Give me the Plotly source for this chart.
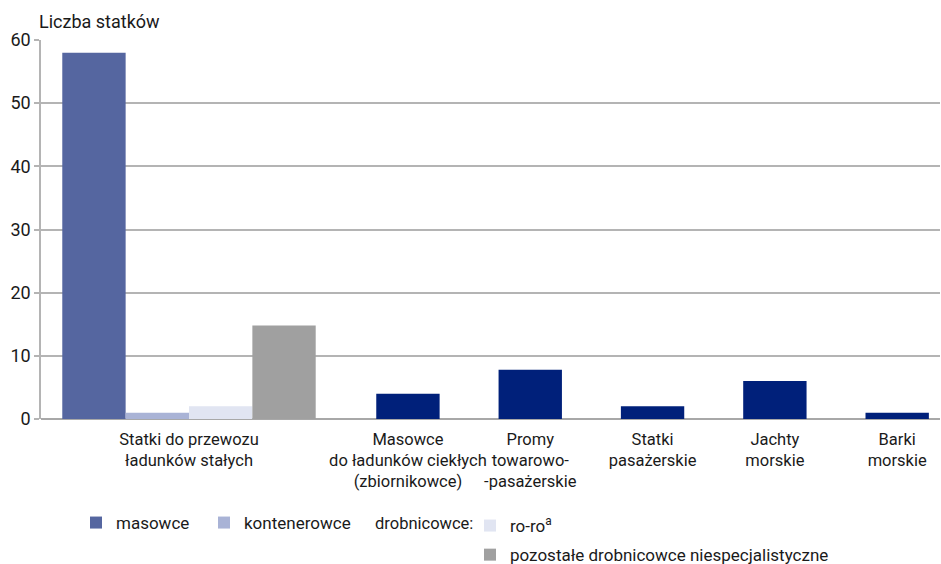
import plotly.graph_objects as go

# data
group_label = "Statki do przewozu<br>ładunków stałych"
group_series = ["masowce", "kontenerowce", "ro-ro<sup>a</sup>", "pozostałe drobnicowce niespecjalistyczne"]
group_values = [58, 1, 2, 14.8]

other_labels = ["Masowce<br>do ładunków ciekłych<br>(zbiornikowce)", "Promy<br>towarowo-<br>-pasażerskie",
                "Statki<br>pasażerskie", "Jachty<br>morskie", "Barki<br>morskie"]
other_values = [4, 7.8, 2, 6, 1]

y_ticks = [0, 10, 20, 30, 40, 50, 60]

# layout / style
FONT = "Liberation Sans Narrow, Roboto, sans-serif"
TXT = "#1a1a1a"
group_colors = ["#5566a0", "#a9b3d6", "#e1e5f2", "#a0a0a0"]
navy = "#00207a"
bar_w = 0.518
group_center = -0.79
other_pos = [1, 2, 3, 4, 5]
legend_ids = ["legend", "legend3", "legend2", "legend2"]

W, H = 941, 564
L, R, T, B = 41, 1, 40, 145
plot_w, plot_h = W - L - R, H - T - B


def px_x(px):  # pixel -> paper x
    return (px - L) / plot_w


def px_y(py):  # pixel -> paper y
    return (H - B - py) / plot_h


fig = go.Figure()

for i, (name, val, col) in enumerate(zip(group_series, group_values, group_colors)):
    fig.add_trace(go.Bar(
        x=[group_center + (i - 1.5) * bar_w], y=[val], width=bar_w,
        name=name, marker=dict(color=col, line=dict(width=0)),
        legend=legend_ids[i],
        legendgroup=f"g{i}",
    ))

fig.add_trace(go.Bar(
    x=other_pos, y=other_values, width=bar_w, showlegend=False,
    marker=dict(color=navy, line=dict(width=0)),
))

leg_common = dict(xref="container", yref="container", bgcolor="rgba(0,0,0,0)",
                  font=dict(size=17, color=TXT))

fig.update_layout(
    width=W, height=H,
    margin=dict(l=L, r=R, t=T, b=B, autoexpand=False),
    plot_bgcolor="white", paper_bgcolor="white",
    barmode="overlay",
    font=dict(family=FONT, size=18, color=TXT),
    xaxis=dict(
        range=[-2.0, 5.35], showgrid=False, zeroline=False,
        tickvals=[group_center] + other_pos,
        ticktext=[group_label] + other_labels,
        ticks="", showline=False, tickangle=0, ticklabelstandoff=8,
        tickfont=dict(size=16.5, color=TXT),
    ),
    yaxis=dict(
        range=[0, 60], tickvals=y_ticks,
        showgrid=True, gridcolor="#b4b4b4", gridwidth=1.5,
        zeroline=True, zerolinecolor="#a8a8a8", zerolinewidth=1.5,
        showline=True, linecolor="#b4b4b4", linewidth=1.5,
        ticks="outside", ticklen=5, tickcolor="#b4b4b4", tickwidth=1.5,
        tickfont=dict(size=18, color=TXT),
    ),
    legend=dict(orientation="h", x=76 / W, y=1 - 523 / H,
                xanchor="left", yanchor="middle", **leg_common),
    legend3=dict(orientation="h", x=204 / W, y=1 - 523 / H,
                 xanchor="left", yanchor="middle", **leg_common),
    legend2=dict(orientation="v", x=470 / W, y=1 - 508 / H,
                 xanchor="left", yanchor="top", tracegroupgap=4, **leg_common),
    annotations=[
        dict(text="Liczba statków", xref="paper", yref="paper", x=0, y=1,
             xshift=-4, yshift=6, xanchor="left", yanchor="bottom", showarrow=False,
             font=dict(size=18, color=TXT)),
        dict(text="drobnicowce:", xref="paper", yref="paper", x=px_x(373), y=px_y(523),
             xanchor="left", yanchor="middle", showarrow=False,
             font=dict(size=16.5, color=TXT)),
    ],
)

fig.write_html("out.html", config={"displayModeBar": False},
               post_script="document.body.style.margin='0';")
